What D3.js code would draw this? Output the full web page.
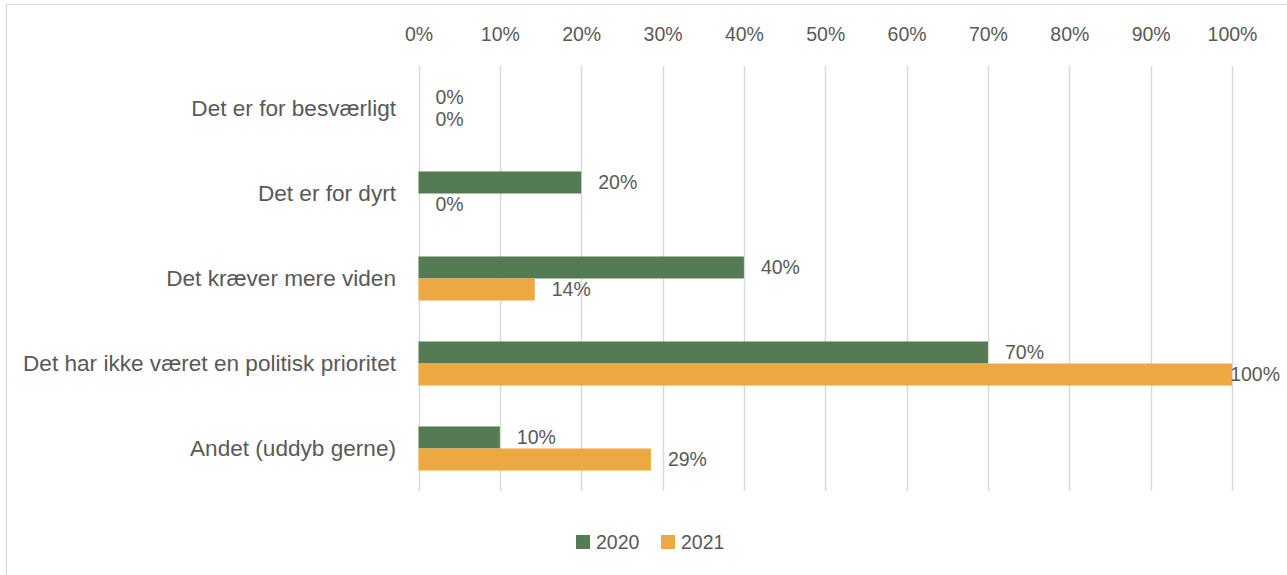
<!DOCTYPE html>
<html><head><meta charset="utf-8">
<script src="https://cdn.jsdelivr.net/npm/d3@7"></script>
<style>body{margin:0;background:#fff}svg{display:block}text{font-family:"Liberation Sans",Arial,sans-serif;fill:#595959}</style>
</head><body>
<script>
const categories = ["Det er for besværligt","Det er for dyrt","Det kræver mere viden","Det har ikke været en politisk prioritet","Andet (uddyb gerne)"];
const seriesNames = ["2020","2021"];
const values2020 = [0,20,40,70,10];
const values2021 = [0,0,14.29,100,28.57];
const tickValues = [0,10,20,30,40,50,60,70,80,90,100];
const colors = ["#547B53","#EBA843"];

const W=1287,H=575;
const svg=d3.select("body").append("svg").attr("width",W).attr("height",H);
// frame
svg.append("rect").attr("x",6.5).attr("y",4.5).attr("width",W+10).attr("height",H+10).attr("fill","none").attr("stroke","#d9d9d9");

const x=d3.scaleLinear().domain([0,100]).range([418.5,1232]);
const y=d3.scaleBand().domain(categories).range([66,491]).paddingInner(0.482).paddingOuter(0.241);
const y1=d3.scaleBand().domain(seriesNames).range([0,y.bandwidth()]);

// gridlines
svg.append("g").selectAll("line").data(tickValues).join("line")
 .attr("x1",d=>Math.round(x(d))+0.5).attr("x2",d=>Math.round(x(d))+0.5).attr("y1",66).attr("y2",491)
 .attr("stroke","#d9d9d9").attr("stroke-width",1.5);

// top axis
const axis=d3.axisTop(x).tickValues(tickValues).tickFormat(d=>d+"%").tickSize(0).tickPadding(0);
const ag=svg.append("g").attr("transform","translate(0,41)").call(axis);
ag.select(".domain").remove();
ag.selectAll("text").style("font-size","19.5px").attr("fill","#595959").attr("font-family","Liberation Sans, Arial, sans-serif");

// category labels
svg.append("g").selectAll("text").data(categories).join("text")
 .attr("x",396).attr("y",d=>y(d)+y.bandwidth()/2).attr("dy","0.35em").attr("text-anchor","end")
 .style("font-size","22.6px").text(d=>d);

const series=[values2020,values2021];
series.forEach((vals,si)=>{
  const g=svg.append("g");
  g.selectAll("rect").data(vals).join("rect")
   .attr("x",x(0)).attr("y",(d,i)=>y(categories[i])+y1(seriesNames[si]))
   .attr("width",d=>x(d)-x(0)).attr("height",y1.bandwidth()).attr("fill",colors[si]);
  g.selectAll("text").data(vals).join("text")
   .attr("y",(d,i)=>y(categories[i])+y1(seriesNames[si])+y1.bandwidth()/2).attr("dy","0.35em")
   .style("font-size","19.5px").text(d=>Math.round(d)+"%")
   .each(function(d){
     const t=d3.select(this); const w=this.getComputedTextLength();
     let px=x(d)+17; if(px+w>1280) px=1280-w;
     t.attr("x",px);
   });
});

// legend
const lg=svg.append("g");
const legendX=[576,661];
seriesNames.forEach((n,i)=>{
  lg.append("rect").attr("x",legendX[i]).attr("y",535).attr("width",14).attr("height",14).attr("fill",colors[i]);
  lg.append("text").attr("x",legendX[i]+20).attr("y",542).attr("dy","0.35em").style("font-size","19.5px").text(n);
});
</script>
</body></html>
